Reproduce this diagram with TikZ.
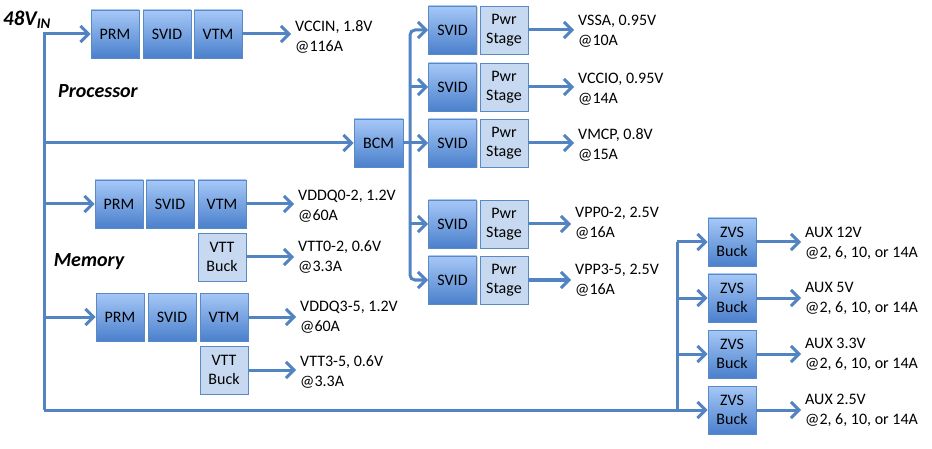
\documentclass[tikz,border=0pt]{standalone}
\usepackage{fontspec}
\setmainfont{Carlito}
\usetikzlibrary{arrows.meta,shadows,calc}
\definecolor{ln}{HTML}{5283C2}
\definecolor{bdr}{HTML}{5A8AC6}
\definecolor{dtop}{HTML}{A6C8F7}
\definecolor{dbot}{HTML}{4A80CC}
\definecolor{lfill}{HTML}{C6D9F1}
\tikzset{
  basebox/.style={draw=bdr, line width=0.8pt, minimum width=48pt, minimum height=48pt,
    inner sep=0pt, align=center, font=\fontsize{16}{19}\selectfont,
    drop shadow={shadow xshift=1.2pt, shadow yshift=-1.2pt, opacity=0.3}},
  dbox/.style={basebox, top color=dtop, bottom color=dbot},
  lbox/.style={basebox, fill=lfill},
  lab/.style={anchor=west, align=left, inner xsep=4pt, inner ysep=0pt,
    font=\fontsize{16}{20}\selectfont},
  conn/.style={draw=ln, line width=3pt},
  arr/.style={conn, -{Straight Barb[length=8pt,width=16pt]}},
  ttl/.style={font=\fontsize{20}{22}\selectfont\bfseries\itshape, inner sep=0pt}
}
\begin{document}
\begin{tikzpicture}[x=1pt,y=-1pt]
\useasboundingbox (0,0) rectangle (932,449);
% titles
\node[ttl, font=\fontsize{21}{22}\selectfont\bfseries\itshape] (vin) at (27,20) {48V\textsubscript{IN}};
\node[ttl] (proc) at (98,91) {Processor};
\node[ttl] (mem) at (89,262) {Memory};
% trunk
\coordinate (ttop) at (44,34);
\coordinate (tbot) at (44,410);
% processor row
\node[dbox] (prm1) at (115,34) {PRM};
\node[dbox] (svid1) at (167,34) {SVID};
\node[dbox] (vtm1) at (218,34) {VTM};
\node[lab] (l1) at (291,37) {VCCIN, 1.8V\\@116A};
% memory 1
\node[dbox] (prm2) at (119,204) {PRM};
\node[dbox] (svid2) at (170,204) {SVID};
\node[dbox] (vtm2) at (222,204) {VTM};
\node[lbox] (vtt1) at (222,257) {VTT\\Buck};
\node[lab] (l2) at (294,206) {VDDQ0-2, 1.2V\\@60A};
\node[lab] (l3) at (294,257) {VTT0-2, 0.6V\\@3.3A};
% memory 2
\node[dbox] (prm3) at (120,317) {PRM};
\node[dbox] (svid3) at (172,317) {SVID};
\node[dbox] (vtm3) at (224,317) {VTM};
\node[lbox] (vtt2) at (224,370) {VTT\\Buck};
\node[lab] (l4) at (296,317) {VDDQ3-5, 1.2V\\@60A};
\node[lab] (l5) at (296,372) {VTT3-5, 0.6V\\@3.3A};
% BCM
\node[dbox, minimum width=49pt] (bcm) at (378.5,143) {BCM};
\coordinate (bx) at (410,143);
\node[dbox] (sa) at (452.5,30) {SVID};
\node[lbox] (pa) at (504,30) {Pwr\\Stage};
\node[dbox] (sb) at (452.5,87) {SVID};
\node[lbox] (pb) at (504,87) {Pwr\\Stage};
\node[dbox] (sc) at (452.5,143) {SVID};
\node[lbox] (pc) at (504,143) {Pwr\\Stage};
\node[dbox] (sd) at (452.5,224) {SVID};
\node[lbox] (pd) at (504,224) {Pwr\\Stage};
\node[dbox] (se) at (452.5,280) {SVID};
\node[lbox] (pe) at (504,280) {Pwr\\Stage};
\node[lab] (la) at (574,31) {VSSA, 0.95V\\@10A};
\node[lab] (lb) at (574,89) {VCCIO, 0.95V\\@14A};
\node[lab] (lc) at (574,145) {VMCP, 0.8V\\@15A};
\node[lab] (ld) at (571,223) {VPP0-2, 2.5V\\@16A};
\node[lab] (le) at (571,280) {VPP3-5, 2.5V\\@16A};
% ZVS
\coordinate (zb) at (677,242);
\node[dbox] (z1) at (732,242) {ZVS\\Buck};
\node[dbox] (z2) at (732,298) {ZVS\\Buck};
\node[dbox] (z3) at (732,354) {ZVS\\Buck};
\node[dbox] (z4) at (732,410) {ZVS\\Buck};
\node[lab] (lz1) at (801,243) {AUX 12V\\@2, 6, 10, or 14A};
\node[lab] (lz2) at (801,298) {AUX 5V\\@2, 6, 10, or 14A};
\node[lab] (lz3) at (801,354) {AUX 3.3V\\@2, 6, 10, or 14A};
\node[lab] (lz4) at (801,410) {AUX 2.5V\\@2, 6, 10, or 14A};
% connectors: trunk
\draw[arr] (tbot) -- (ttop) -- (prm1.west);
\draw[arr] (bcm.west -| ttop) -- (bcm.west);
\draw[arr] (prm2.west -| ttop) -- (prm2.west);
\draw[arr] (prm3.west -| ttop) -- (prm3.west);
\draw[arr] (tbot) -- (z4.west);
% outputs left
\draw[arr] (vtm1.east) -- (vtm1.east -| l1.west);
\draw[arr] (vtm2.east) -- (vtm2.east -| l2.west);
\draw[arr] (vtt1.east) -- (vtt1.east -| l3.west);
\draw[arr] (vtm3.east) -- (vtm3.east -| l4.west);
\draw[arr] (vtt2.east) -- (vtt2.east -| l5.west);
% BCM bus
\draw[conn] (bcm.east) -- (bx);
\draw[arr, rounded corners=5pt] (bx) |- (sa.west);
\draw[arr, rounded corners=5pt] (bx) |- (se.west);
\draw[arr] (sb.west -| bx) -- (sb.west);
\draw[arr] (bx) -- (sc.west);
\draw[arr] (sd.west -| bx) -- (sd.west);
\draw[arr] (pa.east) -- (pa.east -| la.west);
\draw[arr] (pb.east) -- (pb.east -| lb.west);
\draw[arr] (pc.east) -- (pc.east -| lc.west);
\draw[arr] (pd.east) -- (pd.east -| ld.west);
\draw[arr] (pe.east) -- (pe.east -| le.west);
% ZVS bus
\draw[conn] (zb) -- (z4.west -| zb);
\draw[arr] (zb) -- (z1.west);
\draw[arr] (z2.west -| zb) -- (z2.west);
\draw[arr] (z3.west -| zb) -- (z3.west);
\draw[arr] (z1.east) -- (z1.east -| lz1.west);
\draw[arr] (z2.east) -- (z2.east -| lz2.west);
\draw[arr] (z3.east) -- (z3.east -| lz3.west);
\draw[arr] (z4.east) -- (z4.east -| lz4.west);
\end{tikzpicture}
\end{document}
